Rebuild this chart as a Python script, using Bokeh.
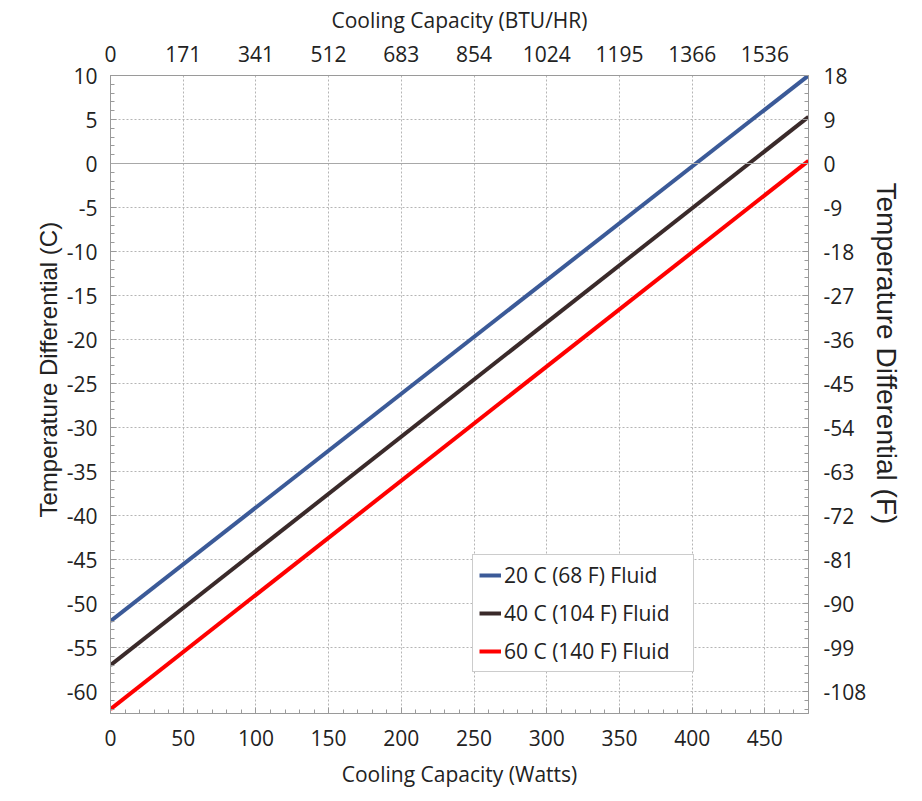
from bokeh.plotting import figure
from bokeh.models import Range1d, LinearAxis, FixedTicker, Span, Legend, LegendItem, Title
from bokeh.embed import file_html
from bokeh.resources import INLINE

# ---- data ----
watts = [0, 480]
fluid_20c = [-52, 10]
fluid_40c = [-57, 5.3]
fluid_60c = [-62, 0.3]
series_names = ["20 C (68 F) Fluid", "40 C (104 F) Fluid", "60 C (140 F) Fluid"]
series_colors = ["#3b5a98", "#3a2a2a", "#ff0000"]

watt_ticks = [0, 50, 100, 150, 200, 250, 300, 350, 400, 450]
btu_labels = ["0", "171", "341", "512", "683", "854", "1024", "1195", "1366", "1536"]
c_ticks = [10, 5, 0, -5, -10, -15, -20, -25, -30, -35, -40, -45, -50, -55, -60]
f_ticks = [18, 9, 0, -9, -18, -27, -36, -45, -54, -63, -72, -81, -90, -99, -108]

FONT = "Open Sans"
LABEL_FONT = "Liberation Sans"
TICK_SIZE = "21px"
TEXT = "#222222"
GRAY = "#9a9a9a"

p = figure(width=922, height=801, x_range=Range1d(0, 480), y_range=Range1d(-62.5, 10),
           output_backend="svg", toolbar_location=None,
           min_border_left=110, min_border_top=75, min_border_right=114, min_border_bottom=88)
p.outline_line_color = GRAY
p.background_fill_color = "white"
p.border_fill_color = "white"

p.extra_y_ranges = {"F": Range1d(-112.5, 18)}
p.extra_x_ranges = {"BTU": Range1d(0, 480)}

x_ticker = FixedTicker(ticks=watt_ticks, minor_ticks=list(range(0, 481, 10)))
y_ticker = FixedTicker(ticks=c_ticks, minor_ticks=list(range(-62, 11)))
f_ticker = FixedTicker(ticks=f_ticks, minor_ticks=[round(c * 1.8, 2) for c in range(-62, 11)])
top_ticker = FixedTicker(ticks=watt_ticks, minor_ticks=[])


def style_axis(ax):
    ax.axis_line_color = GRAY
    ax.major_tick_line_color = GRAY
    ax.minor_tick_line_color = GRAY
    ax.major_tick_in = 6
    ax.major_tick_out = 0
    ax.minor_tick_in = 4
    ax.minor_tick_out = 0
    ax.major_label_text_font = FONT
    ax.major_label_text_font_size = TICK_SIZE
    ax.major_label_text_color = TEXT
    ax.axis_label_text_font = FONT
    ax.axis_label_text_font_size = "21px"
    ax.axis_label_text_font_style = "normal"
    ax.axis_label_text_color = TEXT


def spacer_axis(size, **kw):
    # blank axis used only to reserve room between tick labels and a side title
    ax = LinearAxis(ticker=FixedTicker(ticks=[], minor_ticks=[]), **kw)
    ax.axis_line_color = "white"
    ax.major_tick_line_color = "white"
    ax.minor_tick_line_color = "white"
    ax.major_tick_in = 0
    ax.major_tick_out = size
    ax.minor_tick_in = 0
    ax.minor_tick_out = 0
    ax.major_label_standoff = 0
    ax.axis_label_standoff = 0
    return ax


xa = p.xaxis[0]
xa.ticker = x_ticker
xa.axis_label = "Cooling Capacity (Watts)"
style_axis(xa)
xa.major_label_standoff = 16
xa.axis_label_standoff = 11

ya = p.yaxis[0]
ya.ticker = y_ticker
ya.major_label_overrides = {t: str(t) for t in c_ticks}
style_axis(ya)
ya.major_label_standoff = 13

ra = LinearAxis(y_range_name="F", ticker=f_ticker,
                major_label_overrides={t: str(t) for t in f_ticks})
style_axis(ra)
ra.major_label_standoff = 15
p.add_layout(ra, "right")

ta = LinearAxis(x_range_name="BTU", ticker=top_ticker, axis_label="Cooling Capacity (BTU/HR)",
                major_label_overrides={t: l for t, l in zip(watt_ticks, btu_labels)})
style_axis(ta)
ta.major_tick_in = 0
ta.major_label_standoff = 14
ta.axis_label_standoff = 9
p.add_layout(ta, "above")

# vertical axis titles, with blank spacers between them and the tick labels
p.add_layout(spacer_axis(30), "left")
p.add_layout(Title(text="Temperature Differential (C)", align="left", offset=196, standoff=4,
                   text_font=LABEL_FONT, text_font_size="24px", text_font_style="normal",
                   text_color=TEXT), "left")
p.add_layout(spacer_axis(16, y_range_name="F"), "right")
p.add_layout(Title(text="Temperature Differential (F)", align="left", offset=107, standoff=2,
                   text_font=LABEL_FONT, text_font_size="28px", text_font_style="normal",
                   text_color=TEXT), "right")

for g in (p.xgrid[0], p.ygrid[0]):
    g.grid_line_color = "#b5b5b5"
    g.grid_line_dash = "2 2"
    g.grid_line_width = 1
p.xgrid[0].ticker = x_ticker
p.ygrid[0].ticker = y_ticker

p.add_layout(Span(location=0, dimension="width", line_color="#a8a8a8", line_width=1.2))

renderers = []
for ys, col in zip([fluid_20c, fluid_40c, fluid_60c], series_colors):
    r = p.line(watts, ys, line_color=col, line_width=4)
    renderers.append(r)

legend = Legend(items=[LegendItem(label=n, renderers=[r]) for n, r in zip(series_names, renderers)],
                location=(362, 41))
legend.label_text_font = FONT
legend.label_text_font_size = "21px"
legend.label_text_color = TEXT
legend.glyph_width = 22
legend.glyph_height = 22
legend.label_height = 22
legend.label_width = 183
legend.label_standoff = 3
legend.spacing = 10
legend.padding = 6
legend.margin = 0
legend.border_line_color = GRAY
legend.border_line_width = 1
legend.background_fill_alpha = 1
p.add_layout(legend, "center")

open("out.html", "w").write(file_html(p, INLINE))
